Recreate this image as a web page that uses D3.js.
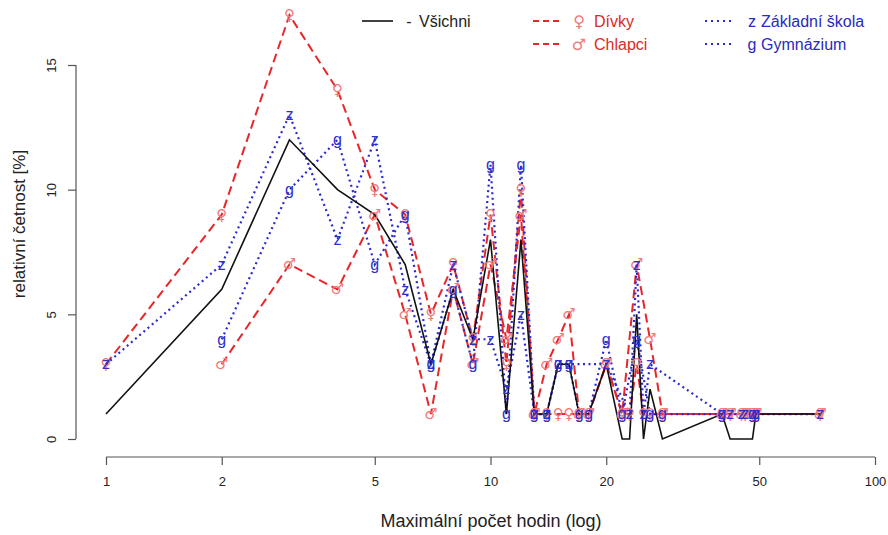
<!DOCTYPE html>
<html><head><meta charset="utf-8">
<script src="https://cdn.jsdelivr.net/npm/d3@7"></script>
<style>body{margin:0;background:#fff}svg{display:block}text{font-family:"Liberation Sans",Arial,sans-serif}</style>
</head><body><svg id="c" width="888" height="535"></svg>
<script>
const hours = [1,2,3,4,5,6,7,8,9,10,11,12,13,14,15,16,17,18,20,22,23,24,25,26,28,40,42,45,46,48,49,72];
const vsichni = [1,6,12,10,9,7,3,6,4,8,1,8,1,1,3,3,1,1,3,0,0,5,0,2,0,1,0,0,0,0,1,1];
const divky = [3,9,17,14,10,9,5,7,4,9,3,10,1,1,1,1,1,1,3,1,1,3,1,1,1,1,1,1,1,1,1,1];
const chlapci = [null,3,7,6,9,5,1,6,3,7,4,9,1,3,4,5,1,1,3,1,null,7,null,4,1,1,1,1,1,1,1,1];
const zakladni = [3,7,13,8,12,6,3,7,4,4,2,5,1,1,3,3,null,null,3,null,1,7,1,3,null,1,1,1,1,1,1,1];
const gymnazium = [null,4,10,12,7,9,3,6,3,11,1,11,1,1,3,3,1,1,4,1,null,4,null,1,1,1,null,null,null,1,1,null];
const xTicks = [1,2,5,10,20,50,100];
const yTicks = [0,5,10,15];

const svg = d3.select("#c");
const x = d3.scaleLog().domain([1,100]).range([106,875]);
const y = d3.scaleLinear().domain([0,15]).range([439,65]);

const xa = svg.append("g").attr("transform","translate(0,457)")
  .call(d3.axisBottom(x).tickValues(xTicks).tickFormat(d3.format("d")).tickSize(8).tickPadding(12));
const ya = svg.append("g").attr("transform","translate(76,0)")
  .call(d3.axisLeft(y).tickValues(yTicks).tickSize(8));
[xa,ya].forEach(a=>{
  a.select(".domain").attr("stroke","#555").attr("stroke-width",1.2);
  a.selectAll(".tick line").attr("stroke","#555").attr("stroke-width",1.2);
  a.selectAll(".tick text").attr("fill","#222").style("font-size","13px");
});
xa.select(".domain").attr("d",`M${x(1)},0H${x(100)}`);
ya.select(".domain").attr("d",`M0,${y(0)}V${y(15)}`);
ya.selectAll(".tick text").attr("transform","rotate(-90)").attr("x",0).attr("y",-20)
  .attr("dy","0").attr("text-anchor","middle");

svg.append("text").attr("x",491).attr("y",527).attr("text-anchor","middle")
  .style("font-size","18px").attr("fill","#222").text("Maximální počet hodin (log)");
svg.append("text").attr("transform","translate(25,224) rotate(-90)").attr("text-anchor","middle")
  .style("font-size","17px").attr("fill","#222").text("relativní četnost [%]");

function pts(vals){ return hours.map((h,i)=>[h,vals[i]]).filter(d=>d[1]!==null); }
const line = d3.line().x(d=>x(d[0])).y(d=>y(d[1]));

const series = [
  {v:divky, stroke:"#e8262a", dash:"9,5", w:2, mark:"♀", mcol:"#f07a7a", msize:15},
  {v:chlapci, stroke:"#e8262a", dash:"9,5", w:2, mark:"♂", mcol:"#f07a7a", msize:15},
  {v:zakladni, stroke:"#2b2bd0", dash:"2,3.5", w:2.2, mark:"z", mcol:"#3030c8", msize:16},
  {v:gymnazium, stroke:"#2b2bd0", dash:"2,3.5", w:2.2, mark:"g", mcol:"#3030c8", msize:16}
];
series.forEach(s=>{
  svg.append("path").datum(pts(s.v)).attr("d",line).attr("fill","none")
    .attr("stroke",s.stroke).attr("stroke-width",s.w).attr("stroke-dasharray",s.dash);
});
svg.append("path").datum(pts(vsichni)).attr("d",line).attr("fill","none")
  .attr("stroke","#111").attr("stroke-width",1.6);
series.forEach(s=>{
  svg.append("g").selectAll("text").data(pts(s.v)).join("text")
    .attr("x",d=>x(d[0])).attr("y",d=>y(d[1])).attr("dy","0.33em")
    .attr("text-anchor","middle").style("font-size",s.msize+"px")
    .style("font-family", /[♀♂]/.test(s.mark) ? "DejaVu Sans" : "Liberation Sans")
    .attr("fill",s.mcol).text(s.mark);
});

const lg = svg.append("g");
const leg = [
  {x1:362,x2:393,y:21,stroke:"#111",dash:null,w:1.6,sym:"-",tx:"Všichni",col:"#222",scol:"#222",sx:409,tx0:419},
  {x1:533,x2:562,y:21,stroke:"#e8262a",dash:"6,4",w:2,sym:"♀",tx:"Dívky",col:"#e02828",scol:"#f07a7a",sx:579,tx0:594},
  {x1:533,x2:562,y:44,stroke:"#e8262a",dash:"6,4",w:2,sym:"♂",tx:"Chlapci",col:"#e02828",scol:"#f07a7a",sx:579,tx0:594},
  {x1:705,x2:735,y:21,stroke:"#2b2bd0",dash:"2,4",w:2,sym:"z",tx:"Základní škola",col:"#2a2ac0",scol:"#2a2ac0",sx:752,tx0:761},
  {x1:705,x2:735,y:44,stroke:"#2b2bd0",dash:"2,4",w:2,sym:"g",tx:"Gymnázium",col:"#2a2ac0",scol:"#2a2ac0",sx:752,tx0:761}
];
leg.forEach(l=>{
  lg.append("line").attr("x1",l.x1).attr("x2",l.x2).attr("y1",l.y).attr("y2",l.y)
    .attr("stroke",l.stroke).attr("stroke-width",l.w).attr("stroke-dasharray",l.dash);
  lg.append("text").attr("x",l.sx).attr("y",l.y).attr("dy","0.35em").attr("text-anchor","middle")
    .style("font-size","16px").style("font-family",/[♀♂]/.test(l.sym)?"DejaVu Sans":"Liberation Sans")
    .attr("fill",l.scol).text(l.sym);
  lg.append("text").attr("x",l.tx0).attr("y",l.y).attr("dy","0.35em")
    .style("font-size","16px").attr("fill",l.col).text(l.tx);
});
</script></body></html>
